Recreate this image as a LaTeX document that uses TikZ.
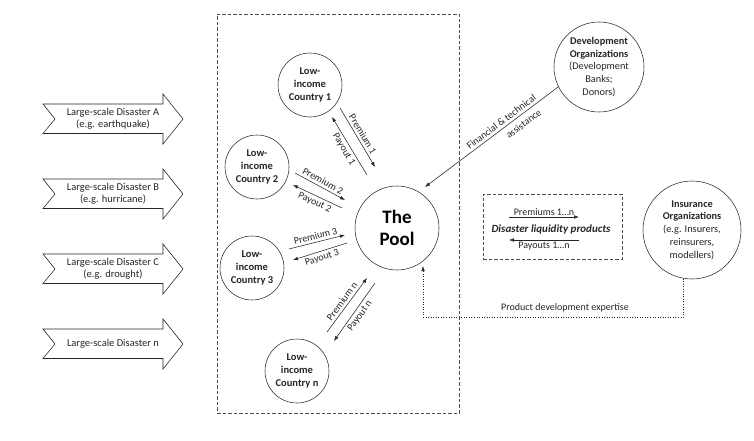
\documentclass[tikz,border=0pt]{standalone}
\usepackage{fontspec}
\setmainfont{Carlito}
\usetikzlibrary{arrows.meta}
\begin{document}
\begin{tikzpicture}[x=1pt,y=-1pt,
  every node/.style={font=\fontsize{10}{12.5}\selectfont, text=black!85},
  line/.style={draw=black!85, line width=0.55pt},
  ctry/.style={line, circle, minimum size=64pt, inner sep=0pt, align=center, font=\bfseries\fontsize{10.5}{13}\selectfont},
  org/.style={line, circle, inner sep=0pt, align=center, font=\fontsize{10.3}{12.8}\selectfont},
  flow/.style={line, -{Latex[length=5pt,width=3.6pt]}},
  lab/.style={font=\fontsize{10}{11}\selectfont, inner sep=2.5pt, sloped},
  boxdash/.style={draw=black!70, line width=0.55pt, dash pattern=on 3.5pt off 2pt},
  disaster/.pic={\draw[line] (0,-15) -- (120,-15) -- (120,-25) -- (140,0) -- (120,25) -- (120,14.5) -- (0,14.5) -- (12,0) -- cycle;}
]
\useasboundingbox (0,0) rectangle (754,441);

% big dashed frame
\node[boxdash, minimum width=242pt, minimum height=399pt, inner sep=0pt] (frame) at (338,213.5) {};

% disaster arrows
\pic at (43,119) {disaster};
\node[align=center, font=\fontsize{10.5}{12}\selectfont] (dA) at (113,119) {Large-scale Disaster A\\(e.g. earthquake)};
\pic at (43,194) {disaster};
\node[align=center, font=\fontsize{10.5}{12}\selectfont] (dB) at (113,194) {Large-scale Disaster B\\(e.g. hurricane)};
\pic at (43,269) {disaster};
\node[align=center, font=\fontsize{10.5}{12}\selectfont] (dC) at (113,269) {Large-scale Disaster C\\(e.g. drought)};
\pic at (43,344) {disaster};
\node[align=center, font=\fontsize{10.5}{12}\selectfont] (dn) at (113,344) {Large-scale Disaster n};

% countries
\node[ctry] (c1) at (310,85) {Low-\\income\\Country 1};
\node[ctry] (c2) at (257,167) {Low-\\income\\Country 2};
\node[ctry] (c3) at (252,268) {Low-\\income\\Country 3};
\node[ctry] (cn) at (297,371) {Low-\\income\\Country n};

% pool
\node[line, circle, minimum size=84pt, inner sep=0pt, align=center, font=\bfseries\fontsize{19}{22}\selectfont, text=black] (pool) at (397,228) {The\\Pool};

% organisations
\node[org, minimum size=90pt] (dev) at (599,67) {\textbf{Development}\\\textbf{Organizations}\\(Development\\Banks;\\Donors)};
\node[org, minimum size=98pt] (ins) at (692,230) {\textbf{Insurance}\\\textbf{Organizations}\\(e.g. Insurers,\\reinsurers,\\modellers)};

% premium / payout pairs
\coordinate (a1s) at (340,108); \coordinate (a1e) at (375,167);
\coordinate (b1s) at (367,175); \coordinate (b1e) at (332,117);
\draw[flow] (a1s) -- node[lab, above] {Premium 1} (a1e);
\draw[flow] (b1s) -- node[lab, below] {Payout 1} (b1e);

\coordinate (a2s) at (295,173); \coordinate (a2e) at (345,200);
\coordinate (b2s) at (342,208); \coordinate (b2e) at (293,185);
\draw[flow] (a2s) -- node[lab, above] {Premium 2} (a2e);
\draw[flow] (b2s) -- node[lab, below] {Payout 2} (b2e);

\coordinate (a3s) at (289,249); \coordinate (a3e) at (345,235);
\coordinate (b3s) at (347,243); \coordinate (b3e) at (293,260);
\draw[flow] (a3s) -- node[lab, above] {Premium 3} (a3e);
\draw[flow] (b3s) -- node[lab, below] {Payout 3} (b3e);

\coordinate (ans) at (327,332); \coordinate (ane) at (367,278);
\coordinate (bns) at (375,283); \coordinate (bne) at (334,341);
\draw[flow] (ans) -- node[lab, above] {Premium n} (ane);
\draw[flow] (bns) -- node[lab, below] {Payout n} (bne);

% financial assistance
\coordinate (finE) at (425,187);
\draw[flow] (dev.206) -- node[lab, above, pos=0.4, inner sep=2.5pt] {Financial \& technical} node[lab, below, pos=0.3, inner sep=5pt] {assistance} (finE);

% product box
\node[boxdash, minimum width=139pt, minimum height=65pt, inner sep=0pt] (prod) at (552.5,226.5) {};
\node[font=\bfseries\itshape\fontsize{11}{13}\selectfont] (dlp) at (551,230) {Disaster liquidity products};
\coordinate (ps) at (509,217); \coordinate (pe) at (579,217);
\coordinate (qs) at (579,240); \coordinate (qe) at (509,240);
\draw[flow] (ps) -- node[above, inner sep=1.5pt] {Premiums 1…n} (pe);
\draw[flow] (qs) -- node[below, inner sep=2pt] {Payouts 1…n} (qe);

% product development expertise
\coordinate (dotc) at (423,317);
\coordinate (dote) at (423,266);
\draw[line, dotted, -{Latex[length=5pt,width=3.6pt]}] (ins.260) |- (dotc) -- (dote);
\node (pde) at (565,308) {Product development expertise};
\end{tikzpicture}
\end{document}
